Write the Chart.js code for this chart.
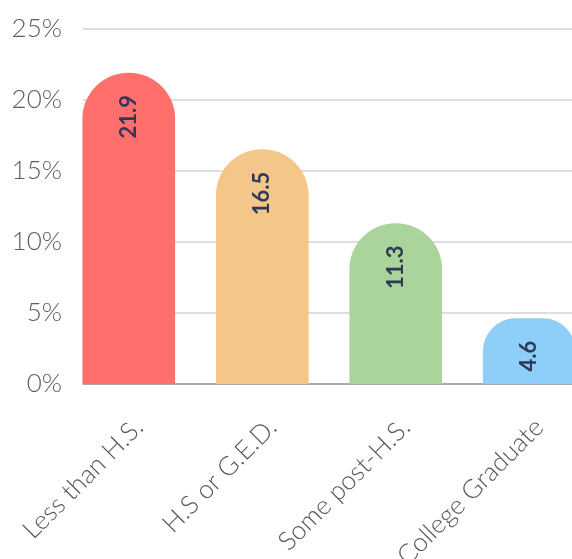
<!DOCTYPE html>
<html>
<head>
<meta charset="utf-8">
<title>Rate by education</title>
<script src="https://cdn.jsdelivr.net/npm/chart.js@4.4.0/dist/chart.umd.min.js"></script>
<style>
  html, body { margin: 0; padding: 0; background: #fff; overflow: hidden; }
  #wrap { position: relative; width: 600px; height: 630px; }
</style>
</head>
<body>
<div id="wrap"><canvas id="eduChart"></canvas></div>
<script>
const categories = ['Less than H.S.', 'H.S or G.E.D.', 'Some post-H.S.', 'College Graduate'];
const rates = [21.9, 16.5, 11.3, 4.6];
const barColors = ['#ff6f6c', '#f5c689', '#aad499', '#8dcff8'];
const yTicks = [0, 5, 10, 15, 20, 25];

const FONT = 'Lato, "Open Sans", sans-serif';

// horizontal guide lines, starting at the left edge of the first bar
const guideLines = {
  id: 'guideLines',
  beforeDatasetsDraw(chart) {
    const { ctx, chartArea, scales } = chart;
    const first = chart.getDatasetMeta(0).data[0];
    const left = first.x - first.width / 2;
    ctx.save();
    yTicks.forEach(v => {
      const y = Math.round(scales.y.getPixelForValue(v));
      ctx.beginPath();
      ctx.moveTo(left, y);
      ctx.lineTo(chartArea.right, y);
      ctx.lineWidth = 2;
      ctx.strokeStyle = v === 0 ? '#a9a9b2' : '#dedee2';
      ctx.stroke();
    });
    ctx.restore();
  }
};

// value printed sideways near the top of each bar
const barValues = {
  id: 'barValues',
  afterDatasetsDraw(chart) {
    const { ctx } = chart;
    const meta = chart.getDatasetMeta(0);
    ctx.save();
    ctx.font = 'bold 22px ' + FONT;
    ctx.fillStyle = '#2e3a58';
    ctx.textAlign = 'right';
    ctx.textBaseline = 'middle';
    meta.data.forEach((bar, i) => {
      ctx.save();
      ctx.translate(bar.x, bar.y + 22);
      ctx.rotate(-Math.PI / 2);
      ctx.fillText(rates[i].toString(), 0, 0);
      ctx.restore();
    });
    ctx.restore();
  }
};

const ctx = document.getElementById('eduChart').getContext('2d');
new Chart(ctx, {
  type: 'bar',
  data: {
    labels: categories,
    datasets: [{
      data: rates,
      backgroundColor: barColors,
      borderWidth: 0,
      borderRadius: { topLeft: 46, topRight: 46, bottomLeft: 0, bottomRight: 0 },
      borderSkipped: 'bottom',
      barThickness: 92
    }]
  },
  options: {
    responsive: true,
    maintainAspectRatio: false,
    animation: false,
    layout: { padding: { top: 29, right: 4, left: 0, bottom: 0 } },
    plugins: {
      legend: { display: false },
      tooltip: { enabled: false }
    },
    scales: {
      x: {
        offset: true,
        grid: { display: false, drawTicks: false },
        border: { display: false },
        ticks: {
          minRotation: 45,
          maxRotation: 45,
          padding: 28,
          labelOffset: 10,
          color: '#55575e',
          font: { family: FONT, size: 26, weight: 300 }
        },
        afterFit(scale) {
          // keep the long rotated labels from pushing the plot area around
          scale.height = 246;
          scale.paddingLeft = 0;
          scale.paddingRight = 0;
        }
      },
      y: {
        min: 0,
        max: 25,
        grid: { display: false, drawTicks: false },
        border: { display: false },
        ticks: {
          stepSize: 5,
          padding: 0,
          color: '#5c5e66',
          font: { family: FONT, size: 26, weight: 300 },
          callback: v => v + '%'
        },
        afterFit(scale) { scale.width = 62; }
      }
    }
  },
  plugins: [guideLines, barValues]
});
</script>
</body>
</html>
